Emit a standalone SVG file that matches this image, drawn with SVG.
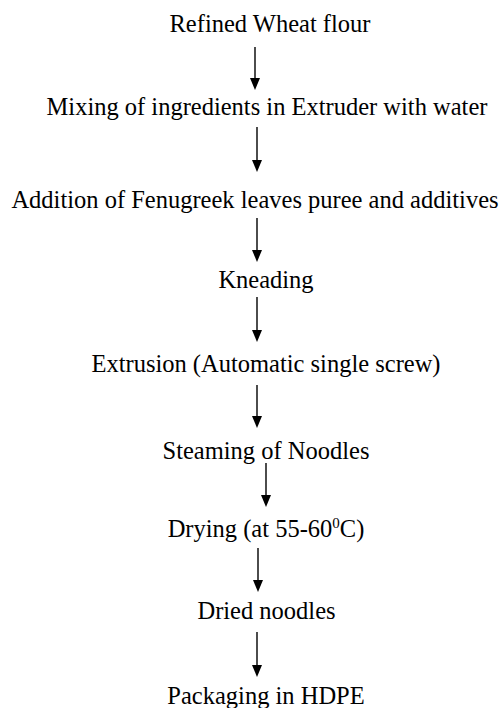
<svg xmlns="http://www.w3.org/2000/svg" width="500" height="708" viewBox="0 0 500 708">
<defs>
<style>
text{font-family:"Liberation Serif","Times New Roman",serif;font-size:24.5px;fill:#000;text-anchor:middle}
.c line{stroke:#000;stroke-width:1.4}
.c path{fill:#000}
</style>
</defs>
<rect width="500" height="708" fill="#fff"/>
<g id="n1"><text x="270" y="32">Refined Wheat flour</text></g>
<g id="n2"><text x="267" y="115">Mixing of ingredients in Extruder with water</text></g>
<g id="n3"><text x="255" y="208">Addition of Fenugreek leaves puree and additives</text></g>
<g id="n4"><text x="266" y="288">Kneading</text></g>
<g id="n5"><text x="266" y="372">Extrusion (Automatic single screw)</text></g>
<g id="n6"><text x="266" y="459">Steaming of Noodles</text></g>
<g id="n7"><text x="266" y="537">Drying (at 55-60<tspan font-size="15" dy="-9">0</tspan><tspan dy="9">C)</tspan></text></g>
<g id="n8"><text x="266.5" y="619">Dried noodles</text></g>
<g id="n9"><text x="266" y="704">Packaging in HDPE</text></g>
<g class="c" id="connectors">
<line x1="255" y1="47" x2="255" y2="78"/><path d="M250,78 L260,78 L255,90 Z"/>
<line x1="257" y1="127" x2="257" y2="160"/><path d="M252,160 L262,160 L257,172 Z"/>
<line x1="257" y1="218" x2="257" y2="250"/><path d="M252,250 L262,250 L257,262 Z"/>
<line x1="257" y1="297" x2="257" y2="330"/><path d="M252,330 L262,330 L257,342 Z"/>
<line x1="257" y1="385" x2="257" y2="416"/><path d="M252,416 L262,416 L257,428 Z"/>
<line x1="266" y1="463" x2="266" y2="495"/><path d="M261,495 L271,495 L266,507 Z"/>
<line x1="258" y1="548" x2="258" y2="580"/><path d="M253,580 L263,580 L258,592 Z"/>
<line x1="257" y1="632" x2="257" y2="665"/><path d="M252,665 L262,665 L257,677 Z"/>
</g>
</svg>
